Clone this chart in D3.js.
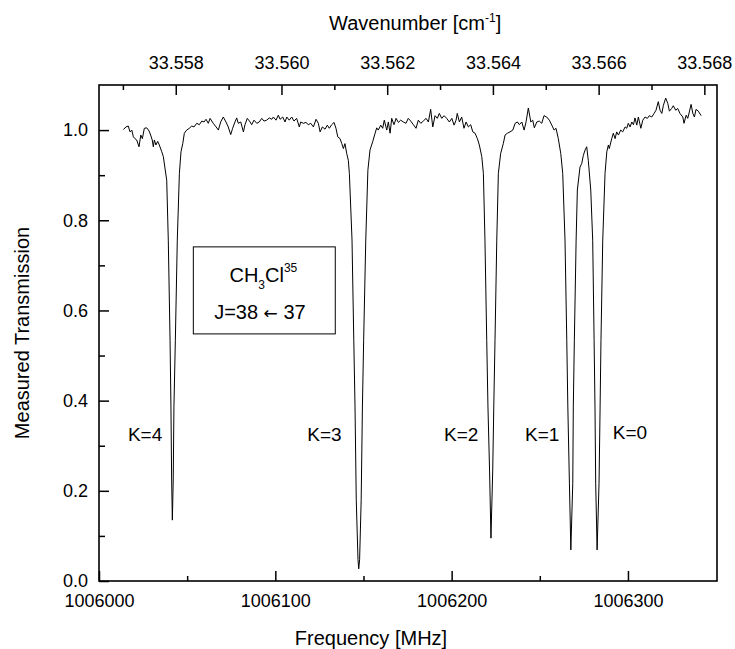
<!DOCTYPE html>
<html>
<head>
<meta charset="utf-8">
<script src="https://cdn.jsdelivr.net/npm/d3@7"></script>
<style>
  body { margin: 0; background: #fff; }
  text { font-family: "Liberation Sans", Arial, sans-serif; fill: #000; }
</style>
</head>
<body>
<div id="chart"></div>
<script>
// frequency [MHz] and measured transmission
var freq = [
  1006013.8, 1006015.3, 1006016.6, 1006017.6, 1006018.6, 1006019.5, 1006020.4, 1006021.4, 1006022.7, 1006023.7,
  1006024.6, 1006025.7, 1006027.1, 1006028.4, 1006029.3, 1006030.2, 1006030.8, 1006031.4, 1006032.3, 1006033.3,
  1006034.2, 1006035.6, 1006036.5, 1006037.4, 1006038.4, 1006039.3, 1006040.3, 1006040.8, 1006041.2, 1006041.6,
  1006042.1, 1006042.5, 1006043.3, 1006044.4, 1006045.6, 1006046.5, 1006047.5, 1006048.4, 1006049.7, 1006051.2,
  1006052.6, 1006053.9, 1006055.4, 1006056.9, 1006058.3, 1006059.6, 1006060.7, 1006062.0, 1006063.0, 1006064.8,
  1006066.4, 1006067.7, 1006069.0, 1006070.5, 1006072.0, 1006073.3, 1006074.7, 1006075.8, 1006077.1, 1006078.1,
  1006079.0, 1006080.4, 1006081.9, 1006082.8, 1006084.1, 1006085.7, 1006086.6, 1006087.9, 1006089.5, 1006090.9,
  1006092.3, 1006093.6, 1006095.1, 1006096.6, 1006098.0, 1006098.9, 1006100.4, 1006101.7, 1006102.7, 1006104.2,
  1006105.5, 1006106.5, 1006107.9, 1006109.3, 1006110.6, 1006112.1, 1006113.6, 1006114.4, 1006115.9, 1006117.4,
  1006118.7, 1006120.1, 1006121.6, 1006123.1, 1006124.4, 1006125.4, 1006126.7, 1006128.2, 1006129.5, 1006130.6,
  1006132.0, 1006133.3, 1006134.4, 1006135.4, 1006136.7, 1006137.7, 1006138.6, 1006139.5, 1006140.5, 1006141.4,
  1006142.0, 1006143.5, 1006144.5, 1006145.2, 1006145.9, 1006146.9, 1006147.3, 1006147.8, 1006148.7, 1006149.4,
  1006150.1, 1006151.3, 1006152.5, 1006153.7, 1006155.2, 1006156.6, 1006157.5, 1006158.4, 1006159.8, 1006160.9,
  1006161.8, 1006163.2, 1006164.1, 1006165.1, 1006166.0, 1006167.3, 1006168.5, 1006169.8, 1006171.1, 1006172.6,
  1006174.1, 1006175.4, 1006176.8, 1006178.3, 1006179.8, 1006181.1, 1006182.5, 1006183.9, 1006185.5, 1006186.8,
  1006188.1, 1006189.3, 1006190.6, 1006191.9, 1006193.0, 1006194.4, 1006195.7, 1006197.2, 1006198.7, 1006200.1,
  1006201.4, 1006202.5, 1006203.2, 1006204.4, 1006205.7, 1006207.0, 1006208.2, 1006209.5, 1006210.8, 1006212.0,
  1006213.3, 1006214.6, 1006215.7, 1006217.1, 1006218.0, 1006218.9, 1006219.9, 1006220.6, 1006221.5, 1006222.3,
  1006223.3, 1006223.9, 1006224.6, 1006225.6, 1006226.5, 1006227.8, 1006229.3, 1006230.3, 1006231.6, 1006233.1,
  1006234.7, 1006236.0, 1006237.3, 1006238.4, 1006239.8, 1006241.1, 1006242.2, 1006243.5, 1006244.9, 1006246.0,
  1006246.9, 1006248.3, 1006249.7, 1006251.1, 1006252.4, 1006253.9, 1006255.4, 1006256.8, 1006258.1, 1006259.2,
  1006260.5, 1006261.9, 1006263.0, 1006264.3, 1006265.3, 1006265.9, 1006266.8, 1006267.6, 1006268.7, 1006269.0,
  1006269.6, 1006270.6, 1006271.3, 1006272.8, 1006273.8, 1006274.7, 1006275.7, 1006276.6, 1006277.5, 1006278.9,
  1006280.0, 1006280.8, 1006281.3, 1006281.7, 1006282.5, 1006283.6, 1006284.2, 1006284.7, 1006285.7, 1006287.0,
  1006288.0, 1006288.9, 1006289.4, 1006290.8, 1006291.7, 1006292.7, 1006293.6, 1006294.6, 1006295.9, 1006297.0,
  1006298.4, 1006299.3, 1006300.2, 1006301.2, 1006302.2, 1006303.1, 1006304.0, 1006305.0, 1006305.9, 1006307.3,
  1006308.4, 1006309.7, 1006311.0, 1006312.1, 1006313.5, 1006314.8, 1006315.9, 1006317.2, 1006318.2, 1006319.2,
  1006320.1, 1006321.4, 1006322.6, 1006323.5, 1006324.8, 1006325.7, 1006327.1, 1006328.2, 1006329.5, 1006331.1,
  1006331.8, 1006333.0, 1006333.9, 1006334.8, 1006335.8, 1006336.8, 1006337.7, 1006338.6, 1006339.9, 1006341.5
];
var trans = [
  1.001, 1.007, 1.009, 0.996, 1.000, 0.985, 0.981, 0.978, 0.963, 0.989,
  0.981, 1.004, 1.005, 0.998, 0.989, 0.978, 0.963, 0.978, 0.967, 0.975,
  0.967, 0.952, 0.941, 0.916, 0.889, 0.756, 0.534, 0.386, 0.224, 0.135,
  0.224, 0.386, 0.534, 0.756, 0.904, 0.952, 0.970, 0.993, 1.000, 1.004,
  1.009, 1.007, 1.015, 1.012, 1.020, 1.018, 1.024, 1.015, 1.026, 1.015,
  1.007, 1.000, 1.018, 1.029, 1.018, 1.007, 0.990, 1.004, 1.018, 1.027,
  1.015, 1.018, 0.996, 1.012, 1.026, 1.018, 1.012, 1.022, 1.015, 1.018,
  1.026, 1.020, 1.022, 1.027, 1.024, 1.029, 1.022, 1.033, 1.024, 1.029,
  1.018, 1.029, 1.022, 1.029, 1.020, 1.026, 1.007, 1.018, 1.015, 1.017,
  1.012, 1.015, 1.007, 1.024, 1.015, 0.996, 1.007, 1.002, 1.011, 1.004,
  1.012, 1.017, 1.004, 0.985, 0.981, 0.970, 0.959, 0.970, 0.948, 0.933,
  0.904, 0.756, 0.534, 0.386, 0.180, 0.047, 0.027, 0.047, 0.180, 0.386,
  0.534, 0.756, 0.911, 0.956, 0.974, 0.993, 1.005, 1.000, 1.011, 1.004,
  1.022, 1.000, 1.018, 0.993, 1.026, 1.012, 1.026, 1.017, 1.022, 1.018,
  1.015, 1.026, 1.020, 1.012, 1.004, 1.022, 1.015, 1.020, 1.026, 1.018,
  1.046, 1.007, 1.032, 1.026, 1.037, 1.026, 1.032, 1.026, 1.018, 1.026,
  1.011, 1.022, 1.037, 1.018, 1.029, 1.004, 1.018, 1.007, 1.012, 0.996,
  0.993, 0.981, 0.967, 0.941, 0.904, 0.756, 0.534, 0.386, 0.246, 0.095,
  0.246, 0.386, 0.534, 0.756, 0.904, 0.948, 0.970, 0.989, 0.993, 0.996,
  1.000, 1.015, 1.018, 1.012, 1.018, 1.000, 1.018, 1.049, 1.018, 1.022,
  1.005, 1.018, 1.020, 1.015, 1.032, 1.029, 1.022, 1.011, 1.000, 1.004,
  0.981, 0.948, 0.904, 0.756, 0.534, 0.386, 0.217, 0.069, 0.217, 0.386,
  0.534, 0.756, 0.867, 0.918, 0.926, 0.944, 0.956, 0.963, 0.933, 0.867,
  0.756, 0.534, 0.386, 0.217, 0.069, 0.217, 0.386, 0.534, 0.756, 0.904,
  0.952, 0.967, 0.959, 0.981, 0.993, 0.981, 0.996, 0.989, 1.000, 0.996,
  1.007, 1.004, 1.015, 1.007, 1.018, 1.012, 1.027, 1.011, 1.029, 1.004,
  1.022, 1.029, 1.026, 1.032, 1.029, 1.037, 1.044, 1.063, 1.044, 1.037,
  1.055, 1.071, 1.059, 1.042, 1.048, 1.054, 1.044, 1.048, 1.037, 1.029,
  1.015, 1.033, 1.026, 1.040, 1.057, 1.037, 1.029, 1.046, 1.042, 1.032
];

var freqTicks = [1006000, 1006100, 1006200, 1006300];
var freqMinor = [1006050, 1006150, 1006250];
var transTicks = [0.0, 0.2, 0.4, 0.6, 0.8, 1.0];
var transMinor = [0.1, 0.3, 0.5, 0.7, 0.9];
var waveTicks = [33.558, 33.560, 33.562, 33.564, 33.566, 33.568];
var waveMinor = [33.557, 33.559, 33.561, 33.563, 33.565, 33.567];

var kLabels = ["K=4", "K=3", "K=2", "K=1", "K=0"];
var kFreq = [1006016.4, 1006118.1, 1006195.7, 1006241.6, 1006291.4];

var cLight = 29979.2458; // MHz per cm-1

var width = 735, height = 649;
var margin = {top: 85, right: 18, bottom: 68, left: 99};
var w = width - margin.left - margin.right,
    h = height - margin.top - margin.bottom;

var svg = d3.select("#chart").append("svg")
    .attr("width", width)
    .attr("height", height);

var g = svg.append("g")
    .attr("transform", "translate(" + margin.left + "," + margin.top + ")");

var fDomain = [1006000, 1006350.5];
var x = d3.scaleLinear().domain(fDomain).range([0, w]);
var xTop = d3.scaleLinear().domain([fDomain[0] / cLight, fDomain[1] / cLight]).range([0, w]);
var y = d3.scaleLinear().domain([0, 1.1]).range([h, 0]);

// axes, ticks pointing inward
g.append("g").attr("transform", "translate(0," + h + ")")
    .call(d3.axisBottom(x).tickValues(freqTicks).tickFormat(d3.format("d"))
      .tickSizeInner(-10).tickSizeOuter(0).tickPadding(13));
g.append("g").attr("transform", "translate(0," + h + ")")
    .call(d3.axisBottom(x).tickValues(freqMinor).tickFormat("")
      .tickSizeInner(-5).tickSizeOuter(0));

g.append("g")
    .call(d3.axisLeft(y).tickValues(transTicks).tickFormat(d3.format(".1f"))
      .tickSizeInner(-10).tickSizeOuter(0).tickPadding(11));
g.append("g")
    .call(d3.axisLeft(y).tickValues(transMinor).tickFormat("")
      .tickSizeInner(-6).tickSizeOuter(0));

g.append("g")
    .call(d3.axisTop(xTop).tickValues(waveTicks).tickFormat(d3.format(".3f"))
      .tickSizeInner(-10).tickSizeOuter(0).tickPadding(16));
g.append("g")
    .call(d3.axisTop(xTop).tickValues(waveMinor).tickFormat("")
      .tickSizeInner(-5).tickSizeOuter(0));

g.selectAll(".tick line").attr("stroke", "#000").attr("stroke-width", 1.5);
g.selectAll(".domain").remove();
g.selectAll(".tick text").attr("font-size", 18).attr("font-family", "Liberation Sans, Arial, sans-serif");

// frame
g.append("rect")
    .attr("width", w).attr("height", h)
    .attr("fill", "none").attr("stroke", "#000").attr("stroke-width", 1.6);

// spectrum
var pts = freq.map(function(f, i) { return [f, trans[i]]; });
var line = d3.line().x(d => x(d[0])).y(d => y(d[1]));
g.append("path")
    .datum(pts)
    .attr("d", line)
    .attr("fill", "none")
    .attr("stroke", "#000")
    .attr("stroke-width", 1)
    .attr("stroke-linejoin", "round");

// K labels
g.selectAll(".klab")
    .data(kLabels)
    .enter().append("text")
    .attr("class", "klab")
    .attr("x", (d, i) => x(kFreq[i]))
    .attr("y", (d, i) => y(i == 4 ? 0.314 : 0.311))
    .attr("font-size", 19)
    .text(d => d);

// molecule box
var boxX0 = x(1006053.5), boxX1 = x(1006134.0);
var boxY0 = y(0.741), boxY1 = y(0.548);
g.append("rect")
    .attr("x", boxX0).attr("y", boxY0)
    .attr("width", boxX1 - boxX0).attr("height", boxY1 - boxY0)
    .attr("fill", "#fff").attr("stroke", "#000").attr("stroke-width", 1);

var t1 = g.append("text")
    .attr("x", x(1006074.0)).attr("y", y(0.662))
    .attr("font-size", 20);
t1.append("tspan").text("CH");
t1.append("tspan").attr("font-size", 12).attr("dy", 7).text("3");
t1.append("tspan").attr("dy", -7).text("Cl");
t1.append("tspan").attr("font-size", 12).attr("dy", -10).text("35");

var t2 = g.append("text")
    .attr("x", x(1006065.3)).attr("y", y(0.58))
    .attr("font-size", 20);
t2.append("tspan").text("J=38 ");
t2.append("tspan").attr("font-family", "DejaVu Sans").attr("font-size", 17).text("\u2190");
t2.append("tspan").text(" 37");

// axis titles
var wt = svg.append("text")
    .attr("x", 329).attr("y", 30)
    .attr("font-size", 20);
wt.append("tspan").text("Wavenumber [cm");
wt.append("tspan").attr("font-size", 12).attr("dy", -8).text("-1");
wt.append("tspan").attr("dy", 8).text("]");

svg.append("text")
    .attr("x", 371).attr("y", 645)
    .attr("text-anchor", "middle")
    .attr("font-size", 20)
    .text("Frequency [MHz]");

svg.append("text")
    .attr("transform", "translate(29," + (margin.top + h / 2) + ") rotate(-90)")
    .attr("text-anchor", "middle")
    .attr("font-size", 20)
    .text("Measured Transmission");
</script>
</body>
</html>
